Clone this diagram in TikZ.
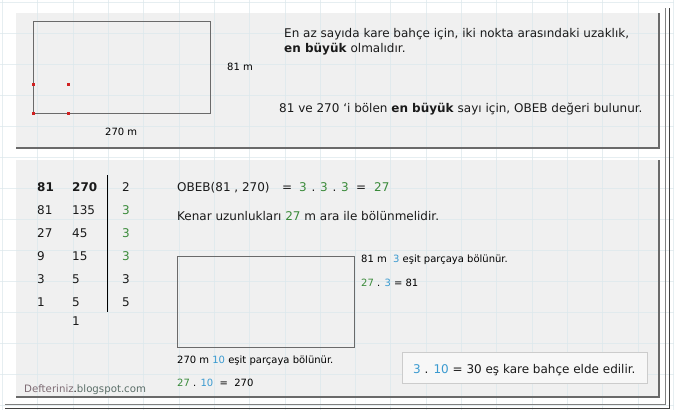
\documentclass[tikz,border=0pt]{standalone}
\usepackage{fontspec}
\setmainfont{DejaVu Sans}
\definecolor{txt}{HTML}{1A1A1A}
\definecolor{grn}{HTML}{3A8A3A}
\definecolor{blu}{HTML}{3A9AD0}
\definecolor{panel}{HTML}{F0F0F0}
\definecolor{edge}{HTML}{6A6A6A}
\definecolor{gridc}{HTML}{DCE8EC}
\definecolor{dotred}{HTML}{D02020}
\definecolor{defc}{HTML}{7D6B73}
\definecolor{blogc}{HTML}{5B6E68}
\begin{document}
\begin{tikzpicture}[x=1pt,y=-1pt,
  t/.style={anchor=base west,inner sep=0pt,font=\fontsize{12}{14}\selectfont,text=txt},
  tb/.style={t,font=\fontsize{12}{14}\selectfont\bfseries},
  s/.style={anchor=base west,inner sep=0pt,font=\fontsize{10}{12}\selectfont,text=black},
  field/.style={draw=edge,line width=0.9pt},
  rdot/.style={fill=dotred}]
\useasboundingbox (0,0) rectangle (674,410);
\fill[white] (0,0) rectangle (674,410);
% panels
\fill[panel] (16,13) rectangle (659,148);
\fill[panel] (16,160) rectangle (659,397);
% faint grid
\foreach \gx in {2.4,37.7,...,674} \draw[gridc,line width=0.6pt,opacity=0.7] (\gx,0) -- (\gx,410);
\foreach \gy in {2,33,...,410} \draw[gridc,line width=0.6pt,opacity=0.7] (0,\gy) -- (674,\gy);
% panel shadows
\draw[edge,line width=1.2pt] (16,148) -- (659,148) -- (659,13);
\draw[edge,line width=1.2pt] (16,397) -- (659,397) -- (659,160);
% outer frame
\draw[gray,line width=0.8pt] (5,404) -- (665,404) -- (665,8);
\draw[black!75,line width=1.4pt] (5,408.5) -- (669.5,408.5) -- (669.5,8);

% top panel
\draw[field] (33,21) rectangle (210,113.5);
\foreach \px/\py in {33/84,68/84,33/113,68/113} \fill[rdot] (\px-1.5,\py-1.5) rectangle (\px+1.5,\py+1.5);
\node[s] (m81) at (227,70) {81 m};
\node[s] (m270) at (105,135) {270 m};
\node[t] (l1) at (284,37.5) {En az sayıda kare bahçe için, iki nokta arasındaki uzaklık,};
\node[t] (l2) at (284,52) {\textbf{en büyük} olmalıdır.};
\node[t] (l3) at (279,112) {81 ve 270 `i bölen \textbf{en büyük} sayı için, OBEB değeri bulunur.};

% division table
\node[tb] (a1) at (37,191) {81};
\node[tb] (b1) at (72,191) {270};
\node[t] (c1) at (122,191) {2};
\node[t] (a2) at (37,214) {81};
\node[t] (b2) at (72,214) {135};
\node[t,text=grn] (c2) at (122,214) {3};
\node[t] (a3) at (37,237) {27};
\node[t] (b3) at (72,237) {45};
\node[t,text=grn] (c3) at (122,237) {3};
\node[t] (a4) at (37,260.5) {9};
\node[t] (b4) at (72,260.5) {15};
\node[t,text=grn] (c4) at (122,260.5) {3};
\node[t] (a5) at (37,283) {3};
\node[t] (b5) at (72,283) {5};
\node[t] (c5) at (122,283) {3};
\node[t] (a6) at (37,306) {1};
\node[t] (b6) at (72,306) {5};
\node[t] (c6) at (122,306) {5};
\node[t] (b7) at (72,325) {1};
\coordinate (dtop) at (107,175);
\coordinate (dbot) at (107,312);
\draw[black,line width=1pt] (dtop) -- (dbot);

% right side
\node[t] (obeb) at (177,191) {OBEB(81 , 270)};
\node[t] (eq1) at (282,191) {=};
\node[t,text=grn] (f1) at (299,191) {3};
\node[t] (d1) at (311.5,191) {.};
\node[t,text=grn] (f2) at (320,191) {3};
\node[t] (d2) at (332.5,191) {.};
\node[t,text=grn] (f3) at (341,191) {3};
\node[t] (eq2) at (356,191) {=};
\node[t,text=grn] (res27) at (374,191) {27};
\node[t] (kenar) at (177,220) {Kenar uzunlukları \textcolor{grn}{27} m ara ile bölünmelidir.};
\draw[field] (177,256) rectangle (354,347.5);
\node[s] (p81) at (361,262) {81 m \ \textcolor{blu}{3} eşit parçaya bölünür.};
\node[s] (e81) at (361,286) {\textcolor{grn}{27} . \textcolor{blu}{3} = 81};
\node[s] (p270) at (177,363) {270 m \textcolor{blu}{10} eşit parçaya bölünür.};
\node[s] (e270) at (177,386) {\textcolor{grn}{27} . \textcolor{blu}{10} \ = \ 270};
\node[draw=black!20,fill=black!3,line width=0.8pt,minimum width=245pt,minimum height=31pt,inner sep=0pt] (res) at (524.5,367.5) {};
\node[t] (restext) at (413,373) {\textcolor{blu}{3} . \textcolor{blu}{10} = 30 eş kare bahçe elde edilir.};
\node[anchor=base west,inner sep=0pt,font=\fontsize{10.2}{12}\selectfont] (blog) at (24,392) {\textcolor{defc}{Defteriniz}\textcolor{black}{.}\textcolor{blogc}{blogspot.com}};
\end{tikzpicture}
\end{document}
